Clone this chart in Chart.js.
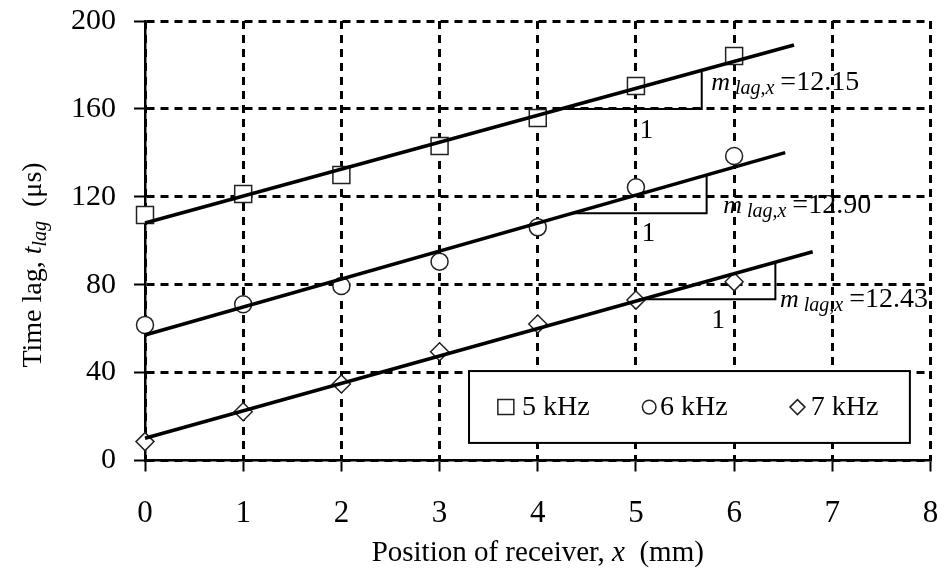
<!DOCTYPE html>
<html>
<head>
<meta charset="utf-8">
<script src="https://cdn.jsdelivr.net/npm/chart.js@4/dist/chart.umd.min.js"></script>
<style>
html,body{margin:0;padding:0;background:#fff;}
canvas{display:block;}
</style>
</head>
<body>
<canvas id="c" width="944" height="570"></canvas>
<script>
// ---------- data ----------
const positions = [0, 1, 2, 3, 4, 5, 6];
const lag5kHz = [111.7, 121.3, 129.9, 143.1, 155.9, 170.4, 184.1];
const lag6kHz = [61.7, 71.1, 79.4, 90.5, 106.1, 124.3, 138.6];
const lag7kHz = [8.6, 22.2, 34.8, 49.5, 62.1, 73.0, 81.3];
const seriesNames = ['5 kHz', '6 kHz', '7 kHz'];

const fitStartX = [0, 0, 0];
const fitEndX = [6.61, 6.52, 6.80];
const fitStartY = [108.1, 57.1, 10.1];
const fitEndY = [189.1, 140.1, 95.0];

const slopeLabels = ['12.15', '12.90', '12.43'];
const triLeftX = [4.24, 4.33, 5.03];
const triRightX = [5.67, 5.72, 6.42];
const triBaseY = [160.0, 112.5, 73.4];
const triTopY = [176.9, 129.5, 89.9];

const xTickValues = [0, 1, 2, 3, 4, 5, 6, 7, 8];
const yTickValues = [0, 40, 80, 120, 160, 200];

// ---------- layout / style ----------
const FONT = "'Liberation Serif','Times New Roman',Times,serif";
const annotationLayout = [
  { mX: 5.766, baseY: 168.6, oneX: 5.107, oneY: 149.9 },
  { mX: 5.888, baseY: 112.6, oneX: 5.127, oneY: 103.3 },
  { mX: 6.467, baseY: 69.9, oneX: 5.838, oneY: 63.7 }
];
const legendLayout = {
  x0: 3.30, x1: 7.79, yTop: 40.7, yBottom: 8.0, rowY: 24.3,
  markerX: [3.675, 5.135, 6.645], textX: [3.84, 5.245, 6.78]
};
const markerStyles = [
  { pointStyle: 'rect', radius: 12 },
  { pointStyle: 'circle', radius: 8.5 },
  { pointStyle: 'rectRot', radius: 9 }
];

const toPts = (xs, ys) => xs.map((x, i) => ({ x: x, y: ys[i] }));
const seriesValues = [lag5kHz, lag6kHz, lag7kHz];

const datasets = [];
for (let i = 0; i < 3; i++) {
  datasets.push({
    label: 'fit ' + seriesNames[i],
    data: toPts([fitStartX[i], fitEndX[i]], [fitStartY[i], fitEndY[i]]),
    showLine: true, borderColor: '#000', borderWidth: 3.5,
    pointRadius: 0, fill: false, order: 1, clip: false
  });
}
for (let i = 0; i < 3; i++) {
  datasets.push({
    label: 'slope ' + seriesNames[i],
    data: toPts([triLeftX[i], triRightX[i], triRightX[i]], [triBaseY[i], triBaseY[i], triTopY[i]]),
    showLine: true, borderColor: '#000', borderWidth: 2,
    pointRadius: 0, fill: false, order: 1, clip: false
  });
}
for (let i = 0; i < 3; i++) {
  datasets.push({
    label: seriesNames[i],
    data: toPts(positions, seriesValues[i]),
    showLine: false,
    pointStyle: markerStyles[i].pointStyle,
    pointRadius: markerStyles[i].radius,
    pointHoverRadius: markerStyles[i].radius,
    pointBorderWidth: 1.5,
    pointBorderColor: '#222',
    pointBackgroundColor: '#fff',
    order: 3, clip: false
  });
}

function drawRich(ctx, segs, x, y, align) {
  let total = 0;
  segs.forEach(s => { ctx.font = s.font; s.w = ctx.measureText(s.t).width; total += s.w + (s.gap || 0); });
  let cx = align === 'center' ? x - total / 2 : x;
  segs.forEach(s => {
    cx += (s.gap || 0);
    ctx.font = s.font;
    ctx.fillText(s.t, cx, y + (s.dy || 0));
    cx += s.w;
  });
}

function drawMarker(ctx, style, x, y) {
  ctx.save();
  ctx.lineWidth = 1.5;
  ctx.strokeStyle = '#222';
  ctx.fillStyle = '#fff';
  ctx.beginPath();
  if (style === 'rect') {
    ctx.rect(x - 8, y - 7.5, 16, 15);
  } else if (style === 'circle') {
    ctx.arc(x, y, 6.8, 0, Math.PI * 2);
  } else {
    ctx.moveTo(x, y - 7.5); ctx.lineTo(x + 7.5, y); ctx.lineTo(x, y + 7.5); ctx.lineTo(x - 7.5, y); ctx.closePath();
  }
  ctx.fill(); ctx.stroke();
  ctx.restore();
}

const overlay = {
  id: 'overlay',
  afterDatasetsDraw(chart) {
    const ctx = chart.ctx;
    const xs = chart.scales.x, ys = chart.scales.y;
    ctx.save();
    ctx.fillStyle = '#000';
    ctx.textAlign = 'left';
    ctx.textBaseline = 'alphabetic';

    annotationLayout.forEach((a, i) => {
      drawRich(ctx, [
        { t: 'm', font: `italic 26px ${FONT}` },
        { t: 'lag,x', font: `italic 20px ${FONT}`, dy: 4, gap: 5 },
        { t: '=' + slopeLabels[i], font: `28px ${FONT}`, gap: 6 }
      ], xs.getPixelForValue(a.mX), ys.getPixelForValue(a.baseY), 'left');
      ctx.font = `27px ${FONT}`;
      ctx.textAlign = 'center';
      ctx.textBaseline = 'middle';
      ctx.fillText('1', xs.getPixelForValue(a.oneX), ys.getPixelForValue(a.oneY));
      ctx.textAlign = 'left';
      ctx.textBaseline = 'alphabetic';
    });

    const L = legendLayout;
    const bx0 = xs.getPixelForValue(L.x0), bx1 = xs.getPixelForValue(L.x1);
    const by0 = ys.getPixelForValue(L.yTop), by1 = ys.getPixelForValue(L.yBottom);
    ctx.fillStyle = '#fff';
    ctx.fillRect(bx0, by0, bx1 - bx0, by1 - by0);
    ctx.lineWidth = 2;
    ctx.strokeStyle = '#000';
    ctx.strokeRect(bx0, by0, bx1 - bx0, by1 - by0);
    const rowY = ys.getPixelForValue(L.rowY);
    ctx.textBaseline = 'middle';
    seriesNames.forEach((n, i) => {
      drawMarker(ctx, markerStyles[i].pointStyle, xs.getPixelForValue(L.markerX[i]), rowY);
      ctx.fillStyle = '#000';
      ctx.font = `28px ${FONT}`;
      ctx.fillText(n, xs.getPixelForValue(L.textX[i]), rowY + 1);
    });
    ctx.restore();
  },
  afterDraw(chart) {
    const ctx = chart.ctx;
    const area = chart.chartArea;
    ctx.save();
    ctx.fillStyle = '#000';
    ctx.textBaseline = 'alphabetic';
    ctx.textAlign = 'left';
    drawRich(ctx, [
      { t: 'Position of receiver, ', font: `29px ${FONT}` },
      { t: 'x', font: `italic 29px ${FONT}` },
      { t: '  (mm)', font: `29px ${FONT}` }
    ], (area.left + area.right) / 2, 561, 'center');
    ctx.translate(41, 265);
    ctx.rotate(-Math.PI / 2);
    drawRich(ctx, [
      { t: 'Time lag, ', font: `28px ${FONT}` },
      { t: 't', font: `italic 28px ${FONT}` },
      { t: 'lag', font: `italic 20px ${FONT}`, dy: 5 },
      { t: '  (\u03bcs)', font: `28px ${FONT}` }
    ], 0, 0, 'center');
    ctx.restore();
  }
};

Chart.defaults.font.family = FONT;
Chart.defaults.color = '#000';

const zeroPad = s => { s.paddingTop = 0; s.paddingBottom = 0; s.paddingLeft = 0; s.paddingRight = 0; };

new Chart(document.getElementById('c'), {
  type: 'scatter',
  data: { datasets: datasets },
  options: {
    responsive: false,
    animation: false,
    events: [],
    layout: { padding: { top: 21, right: 11, left: 0, bottom: 0 } },
    plugins: { legend: { display: false }, tooltip: { enabled: false }, title: { display: false } },
    scales: {
      x: {
        type: 'linear', min: 0, max: 8,
        afterBuildTicks: s => { s.ticks = xTickValues.map(v => ({ value: v })); },
        afterFit: s => { s.height = 109.5; zeroPad(s); },
        ticks: { font: { size: 31, family: FONT }, color: '#000', padding: 24, maxRotation: 0 },
        grid: { color: '#000', lineWidth: 3, drawTicks: true, tickLength: 11, tickWidth: 2, tickColor: '#000' },
        border: { display: true, color: '#000', width: 2.5, dash: [8, 6] }
      },
      y: {
        type: 'linear', min: 0, max: 200,
        afterBuildTicks: s => { s.ticks = yTickValues.map(v => ({ value: v })); },
        afterFit: s => { s.width = 145; zeroPad(s); },
        ticks: { font: { size: 30, family: FONT }, color: '#000', padding: 18 },
        grid: { color: '#000', lineWidth: 3, drawTicks: true, tickLength: 11, tickWidth: 2, tickColor: '#000' },
        border: { display: true, color: '#000', width: 2.5, dash: [8, 6] }
      }
    }
  },
  plugins: [overlay]
});
</script>
</body>
</html>
